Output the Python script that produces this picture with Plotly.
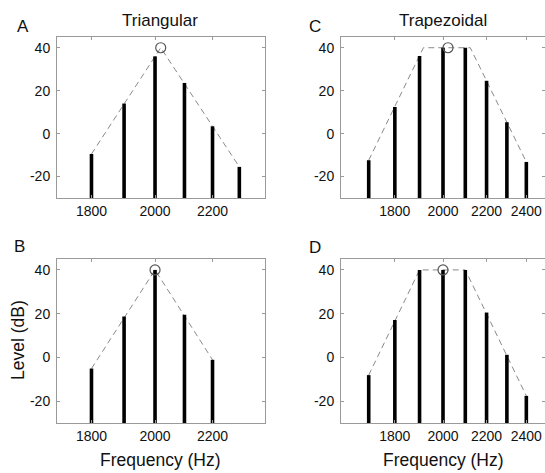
import math
import plotly.graph_objects as go

# ---------------- data ----------------
# Panel A (Triangular, centre ~2020 Hz)
freq_a = [1800, 1900, 2000, 2100, 2200, 2300]
level_a = [-9.5, 14, 36, 23.6, 3.4, -15.5]
env_f_a = [1800, 2019, 2300]
env_l_a = [-9.5, 40, -15.5]
ctr_f_a = [2019]
ctr_l_a = [40]

# Panel B (Triangular, centre 2000 Hz)
freq_b = [1800, 1900, 2000, 2100, 2200]
level_b = [-5.1, 18.7, 40, 19.5, -1.1]
env_f_b = [1800, 2000, 2200]
env_l_b = [-5.1, 40, -1.1]
ctr_f_b = [2000]
ctr_l_b = [40]

# Panel C (Trapezoidal, centre ~2020 Hz)
freq_c = [1700, 1800, 1900, 2000, 2100, 2200, 2300, 2400]
level_c = [-12.4, 12.4, 36.2, 40, 40, 24.6, 5.3, -13.2]
env_f_c = [1700, 1916, 2123, 2400]
env_l_c = [-12.4, 40, 40, -13.2]
ctr_f_c = [2022]
ctr_l_c = [40]

# Panel D (Trapezoidal, centre 2000 Hz)
freq_d = [1700, 1800, 1900, 2000, 2100, 2200, 2300, 2400]
level_d = [-8.1, 17.1, 40, 40, 40, 20.5, 1.2, -17.6]
env_f_d = [1700, 1900, 2100, 2400]
env_l_d = [-8.1, 40, 40, -17.6]
ctr_f_d = [2000]
ctr_l_d = [40]

y_ticks = [-20, 0, 20, 40]
x_ticks_left = [1800, 2000, 2200]
x_ticks_right = [1800, 2000, 2200, 2400]
y_floor = -30
y_top = 45

titles = ["Triangular", "Trapezoidal"]
letters = ["A", "B", "C", "D"]

# ---------------- figure ----------------
W, H = 545, 473
FONT = "Liberation Sans, Arial, sans-serif"
TXT = "#111111"

fig = go.Figure()

panels = [
    (freq_a, level_a, env_f_a, env_l_a, ctr_f_a, ctr_l_a, "x", "y"),
    (freq_b, level_b, env_f_b, env_l_b, ctr_f_b, ctr_l_b, "x2", "y2"),
    (freq_c, level_c, env_f_c, env_l_c, ctr_f_c, ctr_l_c, "x3", "y3"),
    (freq_d, level_d, env_f_d, env_l_d, ctr_f_d, ctr_l_d, "x4", "y4"),
]

for fr, lv, ef, el, cf, cl, xa, ya in panels:
    sx, sy = [], []
    for f, v in zip(fr, lv):
        sx += [f, f, None]
        sy += [y_floor, v, None]
    fig.add_trace(go.Scatter(x=ef, y=el, mode="lines", xaxis=xa, yaxis=ya,
                             line=dict(color="#8a8a8a", width=1, dash="6px,4px"),
                             hoverinfo="skip", showlegend=False))
    fig.add_trace(go.Scatter(x=sx, y=sy, mode="lines", xaxis=xa, yaxis=ya,
                             line=dict(color="black", width=3.6),
                             hoverinfo="skip", showlegend=False))
    fig.add_trace(go.Scatter(x=cf, y=cl, mode="markers", xaxis=xa, yaxis=ya,
                             marker=dict(symbol="circle-open", size=10,
                                         color="#555555", line=dict(width=1.2)),
                             hoverinfo="skip", showlegend=False))

def px_x(p):
    return p / W

def px_y(p):
    return 1 - p / H

dom_x_left = [px_x(57), px_x(265)]
dom_x_right = [px_x(341), 1.0]
dom_y_top = [px_y(198), px_y(37)]
dom_y_bot = [px_y(423), px_y(259)]

axis_common = dict(
    showgrid=False, zeroline=False, showline=True, mirror="ticks",
    linecolor="#9a9a9a", linewidth=1, ticks="inside", ticklen=3,
    tickcolor="#9a9a9a", tickwidth=1,
    tickfont=dict(family=FONT, size=14, color=TXT),
)

xr_left = [math.log10(1700), math.log10(2400)]
xr_right = [math.log10(1600), math.log10(2500)]

layout_axes = {}
for i, (xd, yd, xr, xt) in enumerate([
    (dom_x_left, dom_y_top, xr_left, x_ticks_left),
    (dom_x_left, dom_y_bot, xr_left, x_ticks_left),
    (dom_x_right, dom_y_top, xr_right, x_ticks_right),
    (dom_x_right, dom_y_bot, xr_right, x_ticks_right),
]):
    sfx = "" if i == 0 else str(i + 1)
    layout_axes["xaxis" + sfx] = dict(
        axis_common, domain=xd, type="log", range=xr,
        tickmode="array", tickvals=xt, ticktext=[str(t) for t in xt],
        anchor="y" + sfx, ticklabelstandoff=0,
    )
    layout_axes["yaxis" + sfx] = dict(
        axis_common, domain=yd, range=[y_floor, y_top],
        tickmode="array", tickvals=y_ticks, ticktext=[str(t) for t in y_ticks],
        anchor="x" + sfx, ticklabelstandoff=3,
    )

annotations = []
def ann(text, x, y, size, angle=0):
    annotations.append(dict(text=text, x=px_x(x), y=px_y(y), xref="paper", yref="paper",
                            showarrow=False, xanchor="center", yanchor="middle",
                            textangle=angle,
                            font=dict(family=FONT, size=size, color=TXT)))

ann(titles[0], 160, 20, 17)
ann(titles[1], 443, 20, 17)
ann(letters[0], 23, 27, 17)
ann(letters[1], 19, 246, 17)
ann(letters[2], 315, 27, 17)
ann(letters[3], 315, 247, 17)
ann("Level (dB)", 18, 340, 17.5, angle=-90)
ann("Frequency (Hz)", 160, 460, 17.5)
ann("Frequency (Hz)", 443, 460, 17.5)

fig.update_layout(
    width=W, height=H, margin=dict(l=0, r=0, t=0, b=0),
    paper_bgcolor="white", plot_bgcolor="white",
    annotations=annotations, **layout_axes,
)

fig.write_html("out.html")
